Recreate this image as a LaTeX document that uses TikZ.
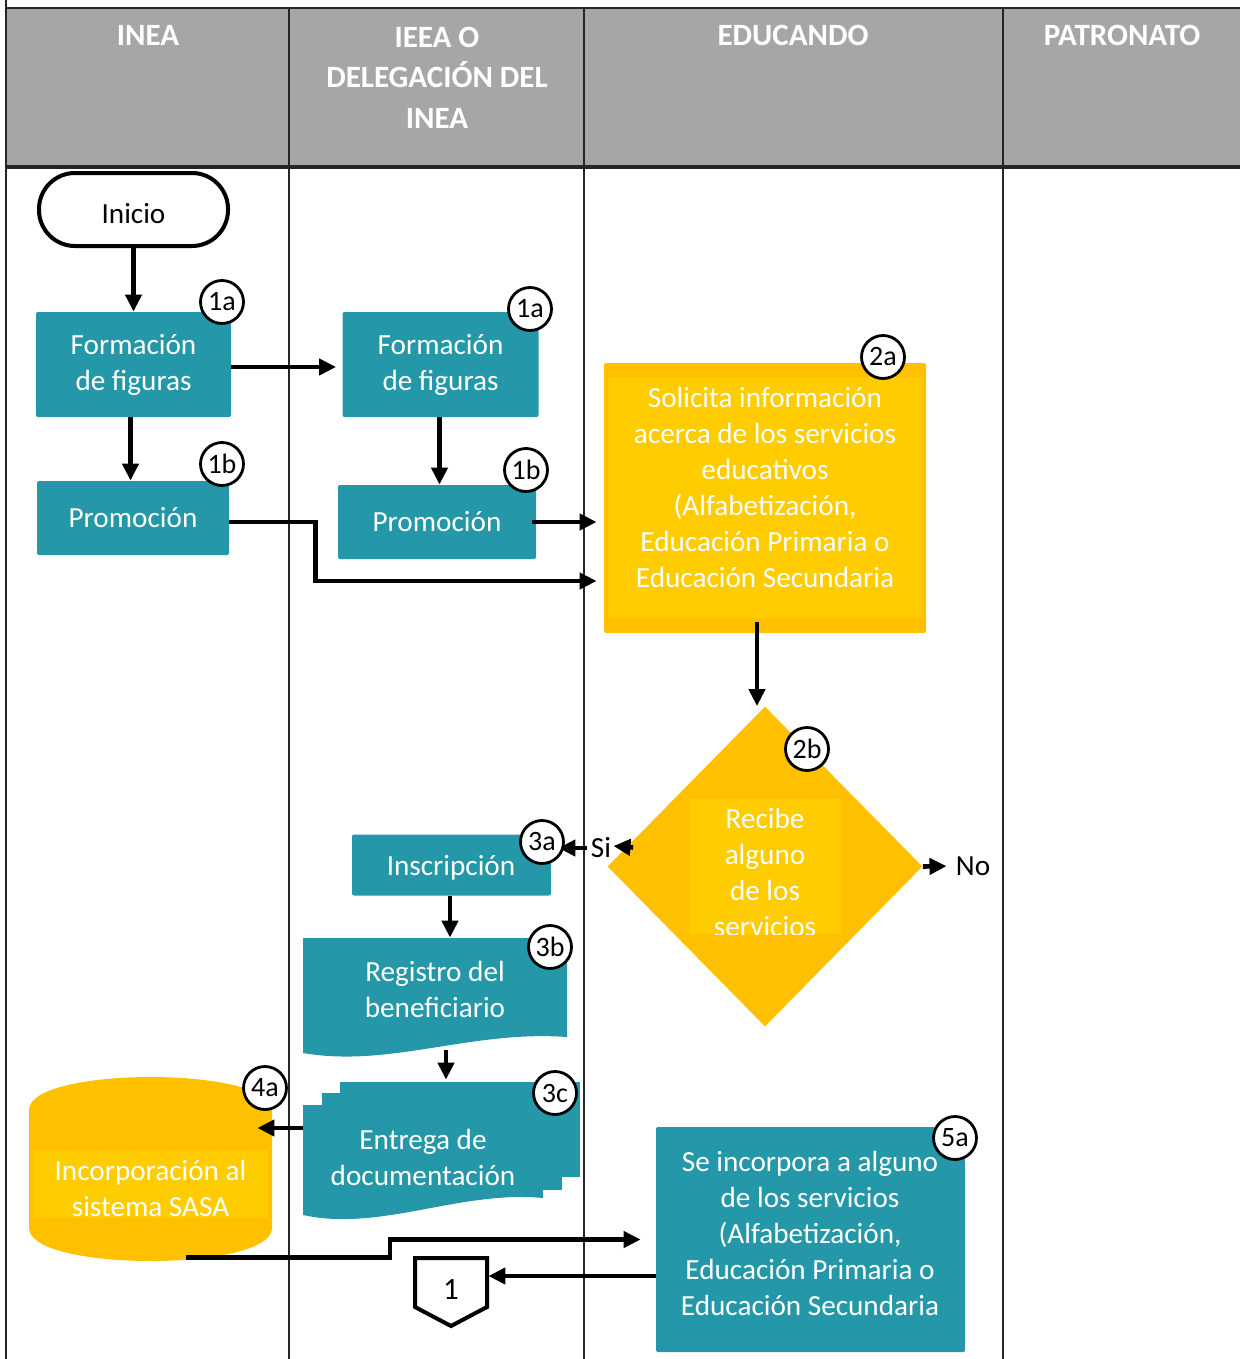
\documentclass[tikz,border=0pt]{standalone}
\usepackage{fontspec}
\setmainfont{Carlito}
\usetikzlibrary{shapes.geometric,arrows.meta}
\definecolor{tealc}{RGB}{36,152,168}
\definecolor{hdr}{RGB}{166,166,166}
\definecolor{gold}{RGB}{255,192,0}
\definecolor{goldl}{RGB}{255,204,0}
\newcommand\bodyf{\fontsize{14.6}{18}\selectfont}
\newcommand\hdrf{\fontsize{15.5}{20.25}\selectfont\bfseries}
\newcommand\badgef{\fontsize{14}{14}\selectfont}
\begin{document}
\begin{tikzpicture}[x=0.5pt,y=-0.5pt,
 box/.style={rectangle, fill=tealc, text=white, font=\bodyf, align=center, inner sep=0pt, rounded corners=1pt},
 badge/.style={circle, draw=black, line width=1.4pt, fill=white, minimum size=21.5pt, inner sep=0pt, font=\badgef},
 arr/.style={-{Triangle[length=8.5pt,width=8pt]}, line width=2.3pt},
 lane/.style={line width=1.1pt, draw=black!85},
 hdrtxt/.style={text=white, font=\hdrf, align=center, inner sep=0pt},
 txt/.style={font=\bodyf, align=center, inner sep=0pt}]

\useasboundingbox (0,0) rectangle (1240,1359);
% header
\fill[hdr] (6,8) rectangle (1240,167);
\draw[lane] (6,0) -- (6,1359);
\draw[lane] (289,8) -- (289,1359);
\draw[lane] (584,8) -- (584,1359);
\draw[lane] (1003,8) -- (1003,1359);
\draw[lane] (6,8) -- (1240,8);
\draw[line width=1.6pt, draw=black!85] (6,167) -- (1240,167);
\node[hdrtxt] (h1) at (148,35) {INEA};
\node[hdrtxt] (h2) at (437,77.5) {IEEA O\\DELEGACIÓN DEL\\INEA};
\node[hdrtxt] (h3) at (793,35) {EDUCANDO};
\node[hdrtxt] (h4) at (1122,35) {PATRONATO};

% INEA lane
\node[draw, line width=2pt, rounded corners=18pt, minimum width=94.5pt, minimum height=36.5pt, inner sep=0pt] (inicio) at (133.5,209.5) {};
\node[txt] (iniciotxt) at (133.5,214) {Inicio};
\node[box, minimum width=97.5pt, minimum height=52.5pt] (f1) at (133.5,364.5) {Formación\\de figuras};
\node[box, minimum width=96pt, minimum height=37pt] (p1) at (133,518) {Promoción};

% IEEA lane
\node[box, minimum width=98pt, minimum height=52.5pt] (f2) at (440.5,364.5) {Formación\\de figuras};
\node[box, minimum width=99pt, minimum height=37pt] (p2) at (437,522) {Promoción};
\node[box, minimum width=99.5pt, minimum height=30.5pt] (insc) at (451.5,865) {};
\node[txt, text=white] (insctxt) at (451,868) {Inscripción};

% Registro (document shape)
\fill[tealc] (303,938) -- (567,938) -- (567,1037) .. controls (470,1030) and (390,1068) .. (303,1053) -- cycle;
\node[txt, text=white, minimum width=132pt, minimum height=51pt] (reg) at (435,989) {Registro del\\beneficiario};

% Entrega (multi document)
\fill[tealc] (340,1082) rectangle (580,1177);
\fill[tealc] (322,1093) rectangle (562,1190);
\fill[tealc] (303,1105) -- (543,1105) -- (543,1198) .. controls (460,1190) and (380,1232) .. (303,1215) -- cycle;
\node[txt, text=white, minimum width=120pt, minimum height=52.5pt] (ent) at (423,1157.5) {Entrega de\\documentación};

% cylinder
\fill[gold] (29,1110) -- (29,1228) .. controls (29,1272) and (272,1272) .. (272,1228) -- (272,1110) .. controls (272,1066) and (29,1066) .. cycle;
\fill[goldl] (33,1150) rectangle (268,1218);
\node[txt, text=white, minimum width=121.5pt, minimum height=69pt] (cyl) at (150.5,1188) {Incorporación al\\sistema SASA};

% off-page connector
\draw[line width=2pt, line join=miter] (415,1258) -- (487,1258) -- (487,1307) -- (451,1326) -- (415,1307) -- cycle;
\node[txt, font=\fontsize{15.5}{18}\selectfont, minimum width=36pt] (off) at (451,1290) {1};

% EDUCANDO lane
\node[rectangle, fill=gold, minimum width=161pt, minimum height=135pt, inner sep=0pt, rounded corners=1pt] (sol) at (765,498) {};
\fill[goldl] (608,377) rectangle (922,618);
\node[txt, text=white] (soltxt) at (765,487.5) {Solicita información\\acerca de los servicios\\educativos\\(Alfabetización,\\Educación Primaria o\\Educación Secundaria};

\node[diamond, fill=gold, minimum width=157.5pt, minimum height=160pt, inner sep=0pt] (dec) at (765,866.5) {};
\fill[goldl] (689,799) rectangle (841,934);
\begin{scope}
\clip (689,799) rectangle (841,934);
\node[txt, text=white] (dectxt) at (765,872) {Recibe\\alguno\\de los\\servicios};
\end{scope}
\node[txt] (si) at (601,848) {Si};
\node[txt] (no) at (973,866) {No};

\node[box, minimum width=154.5pt, minimum height=112.5pt] (inc) at (810.5,1239.5) {};
\node[txt, text=white] (inctxt) at (810,1233.5) {Se incorpora a alguno\\de los servicios\\(Alfabetización,\\Educación Primaria o\\Educación Secundaria};

% connectors
\draw[arr] (inicio) -- (f1);
\draw[arr, shorten >=3pt] ([yshift=-1.25pt]f1.east) -- ([yshift=-1.25pt]f2.west);
\draw[arr] ([xshift=-1.5pt]f1.south) -- ([xshift=-1.5pt]f1.south |- p1.north);
\draw[arr] ([xshift=-0.5pt]f2.south) -- ([xshift=-0.5pt]f2.south |- p2.north);
\draw[arr, shorten >=3.5pt] ([xshift=-2pt]p2.east) -- (p2.east -| sol.west);
\draw[arr, shorten >=3.5pt] ([yshift=-2pt]p1.east) -- ++(86,0) |- ([yshift=-41.5pt]sol.west);
\draw[arr] ([xshift=-4pt,yshift=5.5pt]sol.south) -- ([xshift=-4pt]dec.north);
\draw[arr] ([xshift=13pt,yshift=9.5pt]dec.west) -- ([xshift=1pt,yshift=1pt]si.east);
\draw[arr, shorten >=3.5pt] ([xshift=-2pt]si.west) -- (si.west -| insc.east);
\draw[arr, shorten >=4.5pt] (dec.east) -- (no.west);
\draw[arr] ([xshift=-0.75pt]insc.south) -- ([xshift=-0.75pt]insc.south |- reg.north);
\draw[arr] ([xshift=5.5pt,yshift=-5pt]reg.south) -- ([xshift=11.5pt,yshift=12.5pt]ent.north);
\draw[arr] ([yshift=14.75pt]ent.west) -- ([xshift=-7.5pt,yshift=30pt]cyl.east);
\draw[arr, shorten >=7.5pt] ([xshift=17.75pt]cyl.south) -- ++(204,0) |- (inc.west);
\draw[arr] ([yshift=-18.25pt]inc.west) -- ([xshift=0.5pt,yshift=7pt]off.east);

% badges
\node[badge] (b1) at (222,302) {1a};
\node[badge] (b2) at (530,309) {1a};
\node[badge] (b3) at (222,464) {1b};
\node[badge] (b4) at (526,470) {1b};
\node[badge] (b5) at (883,357) {2a};
\node[badge] (b6) at (807,749) {2b};
\node[badge] (b7) at (542,842) {3a};
\node[badge] (b8) at (550,947) {3b};
\node[badge] (b9) at (555,1093) {3c};
\node[badge] (b10) at (265,1088) {4a};
\node[badge] (b11) at (955,1138) {5a};
\end{tikzpicture}
\end{document}
